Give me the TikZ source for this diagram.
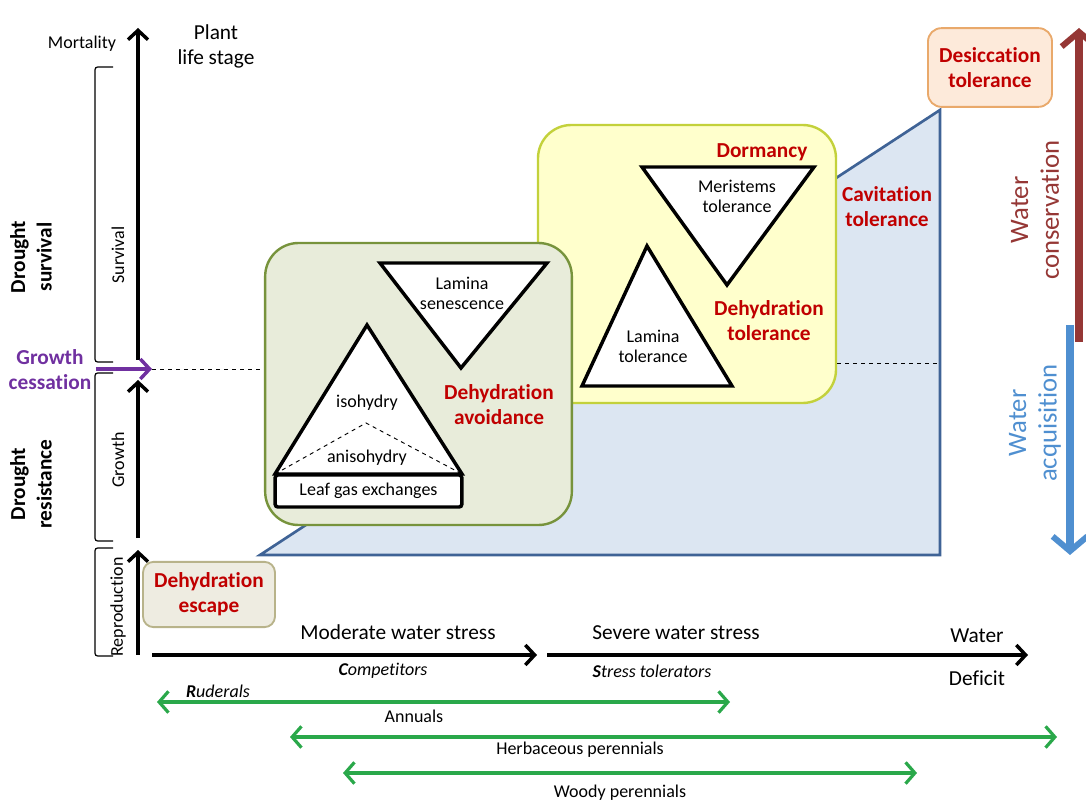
\documentclass[tikz,border=0pt]{standalone}
\usepackage{fontspec}
\setmainfont{Carlito}[Ligatures=NoCommon]
\usetikzlibrary{arrows.meta,positioning}
\definecolor{lblred}{HTML}{C00000}
\definecolor{cesspurple}{HTML}{7030A0}
\definecolor{rangegreen}{HTML}{2AA84A}
\definecolor{stressfill}{HTML}{DCE6F2}
\definecolor{stressline}{HTML}{3F6396}
\definecolor{avoidfill}{HTML}{E8ECDA}
\definecolor{avoidline}{HTML}{77933C}
\definecolor{tolfill}{HTML}{FFFFCC}
\definecolor{tolline}{HTML}{C3D13B}
\definecolor{escfill}{HTML}{EEECE1}
\definecolor{escline}{HTML}{B8B38A}
\definecolor{desfill}{HTML}{FDEADA}
\definecolor{desline}{HTML}{E9A96B}
\definecolor{consred}{HTML}{953735}
\definecolor{acqblue}{HTML}{4F8FD0}
\begin{document}
\begin{tikzpicture}[x=0.75pt,y=-0.75pt,
	sm/.style={font=\fontsize{13.5}{15}\selectfont,align=center},
	bg/.style={font=\fontsize{16}{18.75}\selectfont,align=center},
	redlbl/.style={font=\fontsize{16}{18.75}\selectfont\bfseries,align=center,text=lblred},
	tri/.style={draw=black,fill=white,line width=2.6pt,line join=miter},
	brk/.style={draw=black,line width=0.9pt,rounded corners=2pt},
	axis/.style={draw=black,line width=2.8pt,-{Straight Barb[length=7pt,width=15pt,line width=2.6pt]}},
	lifespan/.style={draw=rangegreen,line width=2.6pt,{Straight Barb[length=7pt,width=16pt,line width=2.4pt]}-{Straight Barb[length=7pt,width=16pt,line width=2.4pt]}},
	box/.style={rounded corners=25pt,line width=1.8pt}]
	\useasboundingbox (0,0) rectangle (1086,802);

	% water deficit wedge
	\coordinate (w1) at (260,555);
	\coordinate (w2) at (940,555);
	\coordinate (w3) at (940,110);
	\filldraw[fill=stressfill,draw=stressline,line width=2pt,line join=miter] (w1) -- (w2) -- (w3) -- cycle;

	% strategy boxes
	\node[box,draw=tolline,fill=tolfill,minimum width=223.5pt,minimum height=208.5pt] (tol) at (687,264) {};
	\node[box,draw=avoidline,fill=avoidfill,minimum width=230pt,minimum height=211.5pt] (avoid) at (418.5,384) {};
	\node[rounded corners=8pt,line width=1.4pt,draw=escline,fill=escfill,minimum width=99pt,minimum height=49pt] (esc) at (209,594.5) {};
	\node[rounded corners=10pt,line width=1.4pt,draw=desline,fill=desfill,minimum width=93pt,minimum height=59pt] (des) at (990,67.5) {};

	% avoidance triangles
	\filldraw[tri] (380,263) -- (547,263) -- (461,368) -- cycle;
	\filldraw[tri] (367,325) -- (462,474) -- (275,474) -- cycle;
	\draw[dashed,line width=0.7pt] (275,474) -- (366,423) -- (462,474);
	\node[draw=black,fill=white,line width=2.6pt,rounded corners=2pt,minimum width=140pt,minimum height=24pt,sm] (gas) at (368.5,491) {Leaf gas exchanges};
	\node[sm] (sen) at (462,293) {Lamina\\senescence};
	\node[sm] (iso) at (367,403) {isohydry};
	\node[sm] (aniso) at (367,458) {anisohydry};
	\node[redlbl] (avoidlbl) at (499,405) {Dehydration\\avoidance};

	% tolerance triangles
	\filldraw[tri] (642,167) -- (814,167) -- (727,285) -- cycle;
	\filldraw[tri] (647,246) -- (732,386) -- (582,386) -- cycle;
	\node[sm] (mer) at (737,196) {Meristems\\tolerance};
	\node[sm] (lam) at (653,346) {Lamina\\tolerance};
	\node[redlbl] (dorm) at (762,152) {Dormancy};
	\node[redlbl] (tollbl) at (769,321) {Dehydration\\tolerance};
	\node[redlbl] (cav) at (887,207) {Cavitation\\tolerance};
	\node[redlbl] at (esc) {Dehydration\\escape};
	\node[redlbl] at (des) {Desiccation\\tolerance};

	% life stage axis
	\coordinate (mort) at (138,28);
	\coordinate (cess) at (152,369);
	\draw[axis] (138,360) -- (mort);
	\draw[axis] (138,538) -- (138,380);
	\draw[axis,{Straight Barb[length=7pt,width=15pt,line width=2.6pt]}-] (138,550) -- (138,655);
	\node[sm] (mortlbl) at (82,44) {Mortality};
	\node[bg] (stage) at (216,46) {Plant\\life stage};
	\draw[brk] (113,67) -- (95,67) -- (95,362) -- (113,362);
	\draw[brk] (113,373) -- (95,373) -- (95,541) -- (113,541);
	\draw[brk] (113,548) -- (95,548) -- (95,656) -- (113,656);
	\node[sm,rotate=90] (surv) at (118,255) {Survival};
	\node[sm,rotate=90] (grow) at (118,460) {Growth};
	\node[sm,rotate=90] (repro) at (118,607) {Reproduction};
	\node[bg,font=\fontsize{16}{20}\selectfont\bfseries,rotate=90] (dsurv) at (31,257) {Drought\\survival};
	\node[bg,font=\fontsize{16}{20}\selectfont\bfseries,rotate=90] (dres) at (31,484) {Drought\\resistance};
	\node[bg,font=\fontsize{16}{18.75}\selectfont\bfseries,text=cesspurple] (cesslbl) at (50,370) {Growth\\cessation};
	\draw[cesspurple,line width=2.8pt,-{Straight Barb[length=7pt,width=15pt,line width=2.6pt]}] (cesslbl.east |- cess) -- (cess);
	\draw[dashed,line width=0.7pt] (cess) -- (cess -| avoid.west);
	\draw[dashed,line width=0.7pt] (tol.east |- 0,363) -- (w2 |- 0,363);

	% water strategies
	\coordinate (cons) at (1079,28);
	\coordinate (acq) at (1070,555);
	\draw[consred,line width=6pt,-{Straight Barb[length=11pt,width=26pt,line width=4.5pt]}] (1079,342) -- (cons);
	\draw[acqblue,line width=6pt,-{Straight Barb[length=11pt,width=26pt,line width=4.5pt]}] (1070,325) -- (acq);
	\node[font=\fontsize{20}{23}\selectfont,align=center,text=consred,rotate=90] (conslbl) at (1035,210) {Water\\conservation};
	\node[font=\fontsize{20}{23}\selectfont,align=center,text=acqblue,rotate=90] (acqlbl) at (1035,423) {Water\\acquisition};

	% water deficit axis
	\coordinate (d0) at (152,655);
	\coordinate (d1) at (537,655);
	\coordinate (d2) at (547,655);
	\coordinate (d3) at (1028,655);
	\draw[axis] (d0) -- (d1);
	\draw[axis] (d2) -- (d3);
	\node[bg] (mod) at (398,632) {Moderate water stress};
	\node[bg] (sev) at (676,633) {Severe water stress};
	\node[bg] (wat) at (977,636) {Water};
	\node[bg] (def) at (977,678) {Deficit};
	\node[sm,font=\fontsize{13.5}{15}\selectfont\itshape] (comp) at (383,671) {\textbf{C}ompetitors};
	\node[sm,font=\fontsize{13.5}{15}\selectfont\itshape] (stol) at (652,671) {\textbf{S}tress tolerators};
	\node[sm,font=\fontsize{13.5}{15}\selectfont\itshape] (rud) at (218,691) {\textbf{R}uderals};

	% life forms
	\coordinate (a0) at (157,702);
	\coordinate (a1) at (730,702);
	\coordinate (h0) at (290,737);
	\coordinate (h1) at (1057,737);
	\coordinate (p0) at (343,773);
	\coordinate (p1) at (917,773);
	\draw[lifespan] (a0) -- (a1);
	\draw[lifespan] (h0) -- (h1);
	\draw[lifespan] (p0) -- (p1);
	\node[sm] (ann) at (414,716) {Annuals};
	\node[sm] (herb) at (580,750) {Herbaceous perennials};
	\node[sm] (wood) at (620,793) {Woody perennials};
\end{tikzpicture}
\end{document}
